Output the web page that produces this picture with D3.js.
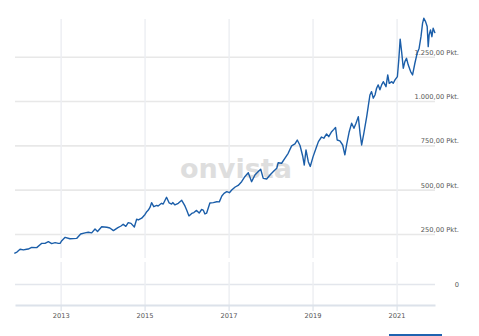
<!DOCTYPE html>
<html><head><meta charset="utf-8">
<script src="https://cdn.jsdelivr.net/npm/d3@7"></script>
<style>html,body{margin:0;padding:0;background:#fff;overflow:hidden}</style>
</head><body><svg id="c" width="479" height="336"></svg>
<script>
const dates = [
"2011-11-25","2011-12-18",
"2012-01-14","2012-02-12","2012-03-11","2012-03-25","2012-04-24","2012-06-07","2012-07-11","2012-07-20","2012-08-18","2012-09-16","2012-10-15","2012-11-14","2012-12-12","2012-12-27",
"2013-01-11","2013-02-09","2013-03-22","2013-05-20","2013-06-24","2013-08-01","2013-08-29","2013-09-28","2013-10-27","2013-11-18","2013-12-24",
"2014-02-07","2014-03-05","2014-04-05","2014-05-14","2014-06-10","2014-06-29","2014-07-22","2014-08-12","2014-09-05","2014-10-04","2014-10-24","2014-11-08","2014-12-07",
"2015-01-05","2015-01-20","2015-02-03","2015-02-18","2015-03-03","2015-03-22","2015-04-16","2015-04-29","2015-05-28","2015-06-12","2015-07-11","2015-08-03","2015-08-24","2015-09-03","2015-09-22","2015-10-21","2015-11-05","2015-11-20","2015-12-03","2015-12-18",
"2016-01-02","2016-01-22","2016-02-15","2016-03-05","2016-03-28","2016-04-20","2016-05-11","2016-05-25","2016-06-09","2016-06-24","2016-07-22","2016-08-21","2016-09-20","2016-10-12","2016-11-03","2016-11-22","2016-12-16",
"2017-01-08","2017-01-28","2017-02-27","2017-03-25","2017-04-24","2017-05-22","2017-06-21","2017-07-20","2017-08-18","2017-09-16","2017-10-07","2017-10-29","2017-11-28","2017-12-27",
"2018-01-25","2018-02-24","2018-03-08","2018-04-07","2018-05-05","2018-06-03","2018-07-03","2018-08-01","2018-08-21","2018-09-14","2018-10-07","2018-10-21","2018-11-05","2018-11-25","2018-12-12",
"2019-01-05","2019-02-01","2019-02-21","2019-03-20","2019-04-09","2019-05-03","2019-05-22","2019-06-16","2019-07-05","2019-07-20","2019-08-03","2019-08-27","2019-09-20","2019-10-09","2019-10-24","2019-11-16","2019-12-07","2019-12-27",
"2020-01-14","2020-02-03","2020-02-18","2020-03-03","2020-03-22","2020-04-16","2020-04-29","2020-05-14","2020-05-28","2020-06-12","2020-06-27","2020-07-11","2020-07-25","2020-08-09","2020-08-24","2020-09-07","2020-10-01","2020-10-16","2020-10-29","2020-11-20","2020-12-03","2020-12-18",
"2021-01-08","2021-01-20","2021-02-01","2021-02-15","2021-02-28","2021-03-14","2021-03-28","2021-04-12","2021-05-03","2021-05-20","2021-06-09","2021-06-29","2021-07-16","2021-08-01","2021-08-15","2021-08-26","2021-09-10","2021-09-24","2021-10-03","2021-10-11","2021-10-23","2021-11-04","2021-11-15","2021-12-01"
];
const values = [
141,148,
164,160,164,165,174,173,192,197,197,207,196,201,197,197,
212,231,223,225,250,256,260,256,278,264,291,
288,284,269,286,295,305,293,314,310,289,333,329,339,
360,376,385,401,427,404,411,408,423,419,457,425,419,427,414,423,432,440,425,408,
385,352,366,371,383,368,388,385,363,368,425,427,432,431,464,479,489,
483,498,515,524,545,573,596,545,583,602,615,564,560,583,
602,621,652,649,677,705,747,758,780,749,690,639,724,658,631,
685,735,771,797,790,814,799,827,840,851,780,775,752,696,752,827,875,846,
875,912,818,752,818,912,968,1034,1053,1016,1034,1072,1091,1063,1091,1109,1081,1147,1100,1109,1100,1119,
1138,1232,1349,1270,1185,1222,1241,1204,1166,1147,1213,1270,1298,1363,1439,1467,1448,1420,1307,1373,1401,1363,1411,1383
];
const yTicks = [250, 500, 750, 1000, 1250];
const yTickLabels = ["250,00 Pkt.", "500,00 Pkt.", "750,00 Pkt.", "1.000,00 Pkt.", "1.250,00 Pkt."];
const xTickYears = [2013, 2015, 2017, 2019, 2021];
const lowerTicks = [0];
const lowerTickLabels = ["0"];
const watermarkText = "onvista";

const parse = d3.timeParse("%Y-%m-%d");
const data = dates.map((d, i) => ({date: parse(d), value: values[i]}));
const tickDates = xTickYears.map(y => new Date(y, 0, 1));

const svg = d3.select("#c");
const x = d3.scaleTime().domain([parse("2011-12-01"), parse("2021-12-01")]).range([15, 435]);
const y = d3.scaleLinear().domain([0, 1250]).range([278.3, 56.7]);
const yLow = d3.scaleLinear().domain([0, 1]).range([284, 263]);

const font = "'DejaVu Sans', Verdana, sans-serif";

// horizontal grid (upper panel)
const hg = svg.append("g").attr("transform", "translate(435,0)")
  .call(d3.axisLeft(y).tickValues(yTicks).tickSize(420).tickFormat(""));
hg.select(".domain").remove();
hg.selectAll("line").attr("stroke", "#e8e8e8").attr("stroke-width", 1.6);

// lower panel gridline
const lg = svg.append("g").attr("transform", "translate(435,0)")
  .call(d3.axisLeft(yLow).tickValues(lowerTicks).tickSize(420).tickFormat(""));
lg.select(".domain").remove();
lg.selectAll("line").attr("stroke", "#e3e6ec").attr("stroke-width", 1.6);

// vertical grid upper
const vg1 = svg.append("g").attr("transform", "translate(0,258)")
  .call(d3.axisBottom(x).tickValues(tickDates).tickSize(-239).tickFormat(""));
vg1.select(".domain").remove();
vg1.selectAll("line").attr("stroke", "#eceef2").attr("stroke-width", 1.4);

// vertical grid lower
const vg2 = svg.append("g").attr("transform", "translate(0,305)")
  .call(d3.axisBottom(x).tickValues(tickDates).tickSize(-43).tickFormat(""));
vg2.select(".domain").remove();
vg2.selectAll("line").attr("stroke", "#eceef2").attr("stroke-width", 1.4);

// x axis
const xa = svg.append("g").attr("transform", "translate(0,305)")
  .call(d3.axisBottom(x).tickValues(tickDates).tickSize(6).tickSizeOuter(0).tickPadding(2.5).tickFormat(d3.timeFormat("%Y")));
xa.select(".domain").attr("stroke", "#dce2ea").attr("stroke-width", 1.8);
xa.selectAll("line").attr("stroke", "#dce2ea").attr("stroke-width", 1.2);
xa.selectAll("text").attr("fill", "#555").style("font-family", font).style("font-size", "6.7px");

// watermark
svg.append("text").attr("x", 180).attr("y", 178)
  .attr("textLength", 112).attr("lengthAdjust", "spacingAndGlyphs")
  .style("font-family", "'DejaVu Sans', sans-serif").style("font-weight", "bold").style("font-size", "27px")
  .attr("fill", "#dedede").text(watermarkText);

// y labels
const ya = svg.append("g").attr("transform", "translate(459,0)")
  .call(d3.axisLeft(y).tickValues(yTicks).tickSize(0).tickPadding(0).tickFormat((d, i) => yTickLabels[i]));
ya.select(".domain").remove();
ya.selectAll("text").attr("dy", -2.5).attr("fill", "#555").style("font-family", font).style("font-size", "6.7px");

const la = svg.append("g").attr("transform", "translate(459,0)")
  .call(d3.axisLeft(yLow).tickValues(lowerTicks).tickSize(0).tickPadding(0).tickFormat((d, i) => lowerTickLabels[i]));
la.select(".domain").remove();
la.selectAll("text").attr("fill", "#555").style("font-family", font).style("font-size", "6.7px");

// line
const line = d3.line().x(d => x(d.date)).y(d => y(d.value));
svg.append("path").datum(data).attr("d", line)
  .attr("fill", "none").attr("stroke", "#1b5ea9").attr("stroke-width", 1.4).attr("stroke-linejoin", "round");

// bottom blue bar
svg.append("rect").attr("x", 389).attr("y", 334).attr("width", 53).attr("height", 3).attr("fill", "#1f63b0");
</script>
</body></html>
